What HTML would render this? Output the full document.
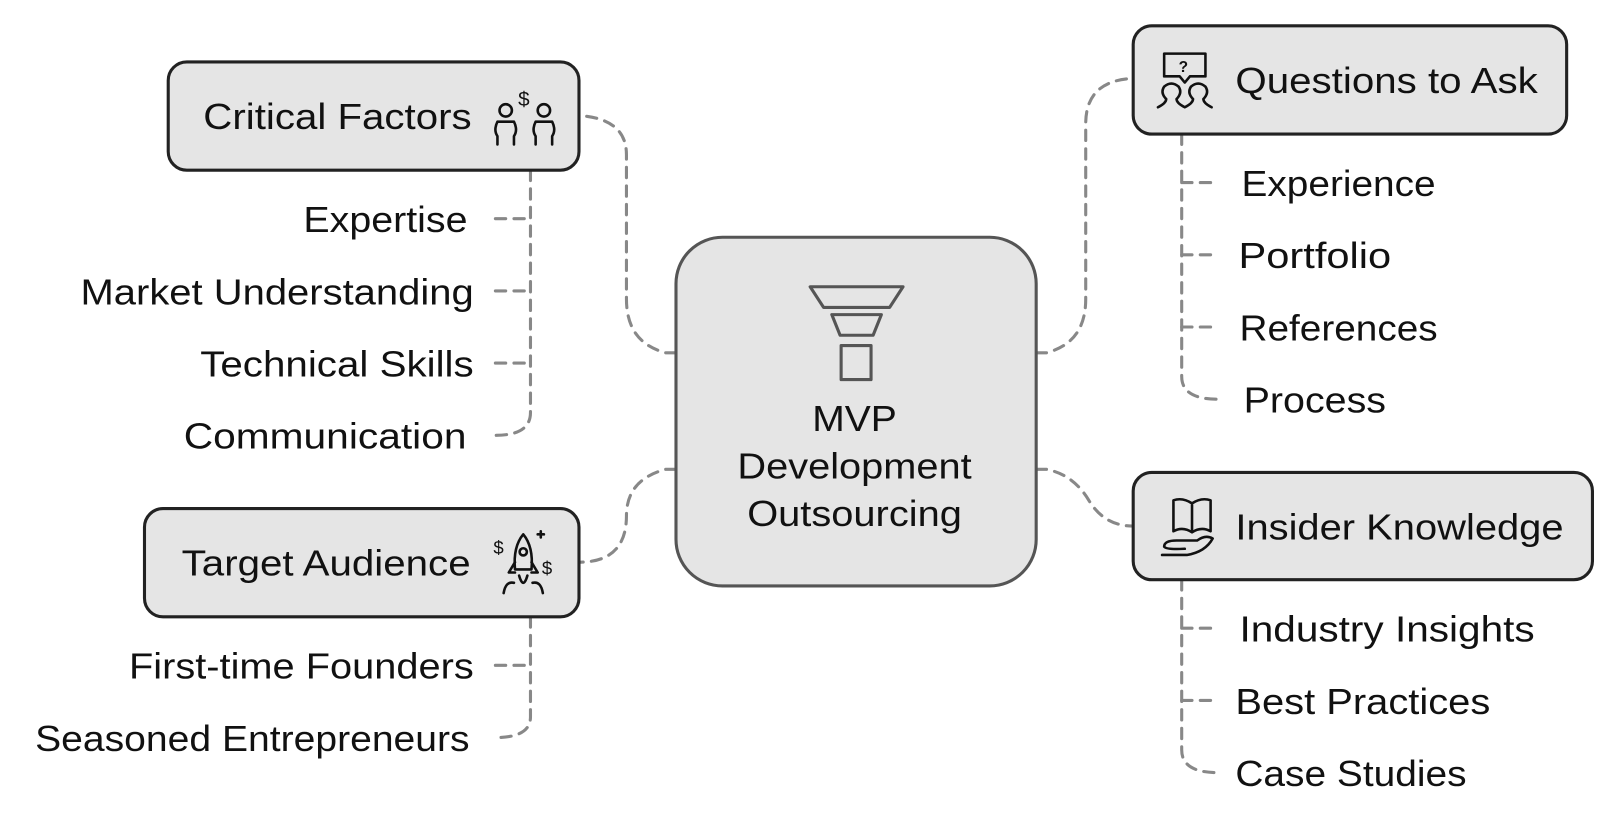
<!DOCTYPE html>
<html><head><meta charset="utf-8"><style>
html,body{margin:0;padding:0;background:#fff;width:1610px;height:818px;overflow:hidden}
svg{display:block}
text{font-family:"Liberation Sans",Arial,sans-serif;font-size:35px;fill:#111}
</style></head><body>
<svg width="1610" height="818" viewBox="0 0 1560 793" preserveAspectRatio="none" xmlns="http://www.w3.org/2000/svg">
<g fill="none" stroke="#888" stroke-width="3" stroke-dasharray="10 8" stroke-linecap="round">
<!-- center connectors -->
<path d="M655 342 H645 Q607 332 607 290 V150 Q607 115 561 112"/>
<path d="M655 455 H645 Q607 465 607 500 Q607 545 561 545"/>
<path d="M1004 342 H1014 Q1052 332 1052 290 V120 Q1052 78 1098 76"/>
<path d="M1004 455 H1014 Q1040 460 1055 485 Q1070 510 1098 510"/>
<!-- left branches -->
<path d="M514 165 V400 Q514 422 480 422"/>
<path d="M480 212 H514 M480 282 H514 M480 352 H514"/>
<path d="M514 598 V695 Q514 715 480 715"/>
<path d="M480 645 H514"/>
<!-- right branches -->
<path d="M1145 130 V365 Q1145 387 1180 387"/>
<path d="M1145 177 H1180 M1145 247 H1180 M1145 317 H1180"/>
<path d="M1145 562 V727 Q1145 749 1180 749"/>
<path d="M1145 609 H1180 M1145 679 H1180"/>
</g>
<!-- boxes -->
<g fill="#e5e5e5" stroke="#222" stroke-width="3">
<rect x="163" y="60" width="398" height="105" rx="18"/>
<rect x="140" y="493" width="421" height="105" rx="18"/>
<rect x="1098" y="25" width="420" height="105" rx="18"/>
<rect x="1098" y="458" width="445" height="104" rx="18"/>
</g>
<rect x="655" y="230" width="349" height="338" rx="45" fill="#e5e5e5" stroke="#555" stroke-width="3"/>
<!-- funnel -->
<g fill="none" stroke="#555" stroke-width="3" stroke-linejoin="round">
<path d="M785 278 H875 L862 298 H798 Z"/>
<path d="M806 305 H854 L846 325 H814 Z"/>
<rect x="815" y="335" width="29" height="33"/>
</g>
<!-- icons -->
<g fill="none" stroke="#111" stroke-width="2.5" stroke-linecap="round" stroke-linejoin="round">
<!-- critical factors -->
<circle cx="490" cy="107" r="6"/><path d="M482 140 V132 Q478 126 482 118 H498 Q502 126 498 132 V140"/>
<circle cx="527" cy="107" r="6"/><path d="M519 140 V132 Q515 126 519 118 H535 Q539 126 535 132 V140"/>
<text x="502" y="103" style="font-size:20px;fill:#111;stroke:none">$</text>
<!-- target audience rocket -->
<path d="M507 518 Q497 530 499 552 H515 Q517 530 507 518 Z"/><circle cx="507" cy="535" r="3.5"/>
<path d="M499 545 L493 555 H499 M515 545 L521 555 H515 M503 558 Q507 572 511 558"/>
<path d="M488 575 Q490 563 498 565 M526 575 Q524 563 516 565"/>
<text x="478" y="537" style="font-size:18px;stroke:none">$</text>
<text x="525" y="557" style="font-size:18px;stroke:none">$</text>
<path d="M524 515 v6 M521 518 h6"/>
<!-- questions -->
<path d="M1128 52 H1168 V74 H1153 L1148 80 L1143 74 H1128 Z"/>
<text x="1142" y="70" style="font-size:15px;stroke:none;font-weight:bold">?</text>
<path d="M1122 104 Q1130 100 1130 96 Q1124 90 1128 84 Q1135 78 1142 84 Q1146 90 1140 96 Q1140 100 1148 104 Q1156 100 1156 96 Q1150 90 1154 84 Q1161 78 1168 84 Q1172 90 1166 96 Q1166 100 1174 104"/>
<!-- book hand -->
<path d="M1137 485 V515 Q1146 510 1155 516 Q1164 510 1173 515 V485 Q1164 482 1155 488 Q1146 482 1137 485 Z M1155 488 V516"/>
<path d="M1126 538 H1150 Q1168 535 1175 522 Q1168 518 1160 524 H1140 Q1128 524 1128 530 Q1130 533 1148 532"/>
</g>
<!-- texts -->
<text x="197" y="125" textLength="260" lengthAdjust="spacingAndGlyphs">Critical Factors</text>
<text x="176" y="558" textLength="280" lengthAdjust="spacingAndGlyphs">Target Audience</text>
<text x="1197" y="90" textLength="293" lengthAdjust="spacingAndGlyphs">Questions to Ask</text>
<text x="1197" y="523" textLength="318" lengthAdjust="spacingAndGlyphs">Insider Knowledge</text>
<g text-anchor="end">
<text x="453" y="225" textLength="159" lengthAdjust="spacingAndGlyphs">Expertise</text>
<text x="459" y="295" textLength="381" lengthAdjust="spacingAndGlyphs">Market Understanding</text>
<text x="459" y="365" textLength="265" lengthAdjust="spacingAndGlyphs">Technical Skills</text>
<text x="452" y="435" textLength="274" lengthAdjust="spacingAndGlyphs">Communication</text>
<text x="459" y="658" textLength="334" lengthAdjust="spacingAndGlyphs">First-time Founders</text>
<text x="455" y="728" textLength="421" lengthAdjust="spacingAndGlyphs">Seasoned Entrepreneurs</text>
</g>
<text x="1203" y="190" textLength="188" lengthAdjust="spacingAndGlyphs">Experience</text>
<text x="1200" y="260" textLength="148" lengthAdjust="spacingAndGlyphs">Portfolio</text>
<text x="1201" y="330" textLength="192" lengthAdjust="spacingAndGlyphs">References</text>
<text x="1205" y="400" textLength="138" lengthAdjust="spacingAndGlyphs">Process</text>
<text x="1201" y="622" textLength="286" lengthAdjust="spacingAndGlyphs">Industry Insights</text>
<text x="1197" y="692" textLength="247" lengthAdjust="spacingAndGlyphs">Best Practices</text>
<text x="1197" y="762" textLength="224" lengthAdjust="spacingAndGlyphs">Case Studies</text>
<g text-anchor="middle">
<text x="828" y="418" textLength="82" lengthAdjust="spacingAndGlyphs">MVP</text>
<text x="828" y="464" textLength="227" lengthAdjust="spacingAndGlyphs">Development</text>
<text x="828" y="510" textLength="208" lengthAdjust="spacingAndGlyphs">Outsourcing</text>
</g>
</svg>
</body></html>
